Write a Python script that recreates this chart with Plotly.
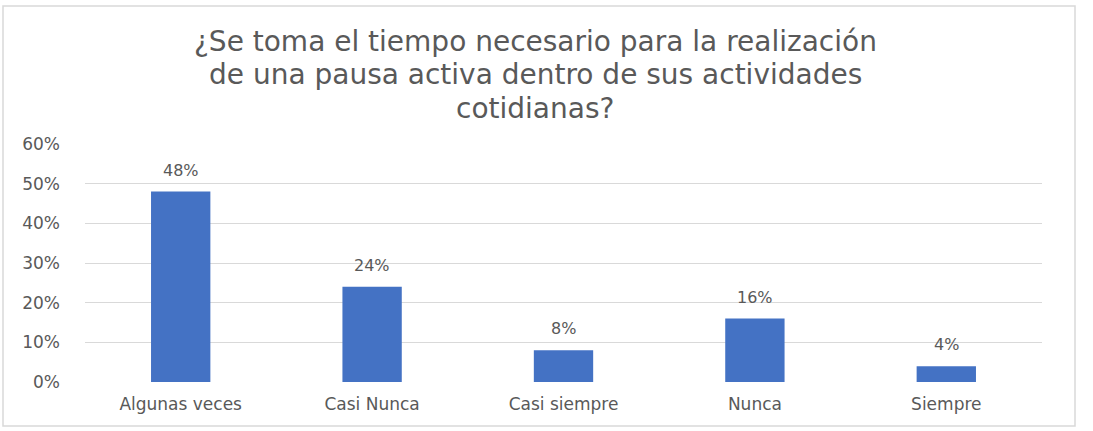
import plotly.graph_objects as go

categories = ["Algunas veces", "Casi Nunca", "Casi siempre", "Nunca", "Siempre"]
values = [0.48, 0.24, 0.08, 0.16, 0.04]
tick_vals = [0, 0.1, 0.2, 0.3, 0.4, 0.5, 0.6]
tick_text = ["0%", "10%", "20%", "30%", "40%", "50%", "60%"]
title_lines = ["¿Se toma el tiempo necesario para la realización",
               "de una pausa activa dentro de sus actividades",
               "cotidianas?"]

W, H = 1093, 431
L, R, T, B = 85, 51, 144, 49
pw, ph = W - L - R, H - T - B
GRAY = "#595959"
FONT = "DejaVu Sans, Open Sans, sans-serif"

def px_x(p):
    return (p - L) / pw

def px_y(p):
    return (H - B - p) / ph

fig = go.Figure(go.Bar(
    x=categories, y=values,
    marker=dict(color="#4472C4", line=dict(width=0)),
))

annotations = []
for i, line in enumerate(title_lines):
    annotations.append(dict(text=line, xref="paper", yref="paper",
                            x=px_x(535), y=px_y(42 + 33 * i),
                            xanchor="center", yanchor="middle", showarrow=False,
                            font=dict(family=FONT, size=28, color=GRAY)))
for c, v in zip(categories, values):
    annotations.append(dict(text=f"{round(v*100)}%", x=c, y=v, xref="x", yref="y",
                            xanchor="center", yanchor="bottom", yshift=10, showarrow=False,
                            font=dict(family=FONT, size=16, color=GRAY)))

fig.update_layout(
    width=W, height=H,
    margin=dict(l=L, r=R, t=T, b=B),
    paper_bgcolor="white", plot_bgcolor="white",
    bargap=0.69,
    showlegend=False,
    annotations=annotations,
    xaxis=dict(showgrid=False, showline=False, ticks="", ticklabelstandoff=10,
               tickfont=dict(family=FONT, size=17, color=GRAY)),
    yaxis=dict(range=[0, 0.6], tickvals=tick_vals, ticktext=tick_text,
               showgrid=True, gridcolor="#D9D9D9", gridwidth=1, zeroline=False,
               showline=False, ticks="", ticklabelstandoff=24,
               tickfont=dict(family=FONT, size=17, color=GRAY)),
    shapes=[dict(type="rect", xref="paper", yref="paper",
                 x0=px_x(3), x1=px_x(1075), y0=px_y(426), y1=px_y(6),
                 line=dict(color="#D9D9D9", width=1.5), fillcolor="rgba(0,0,0,0)", layer="below")],
)

fig.write_html("out.html")
